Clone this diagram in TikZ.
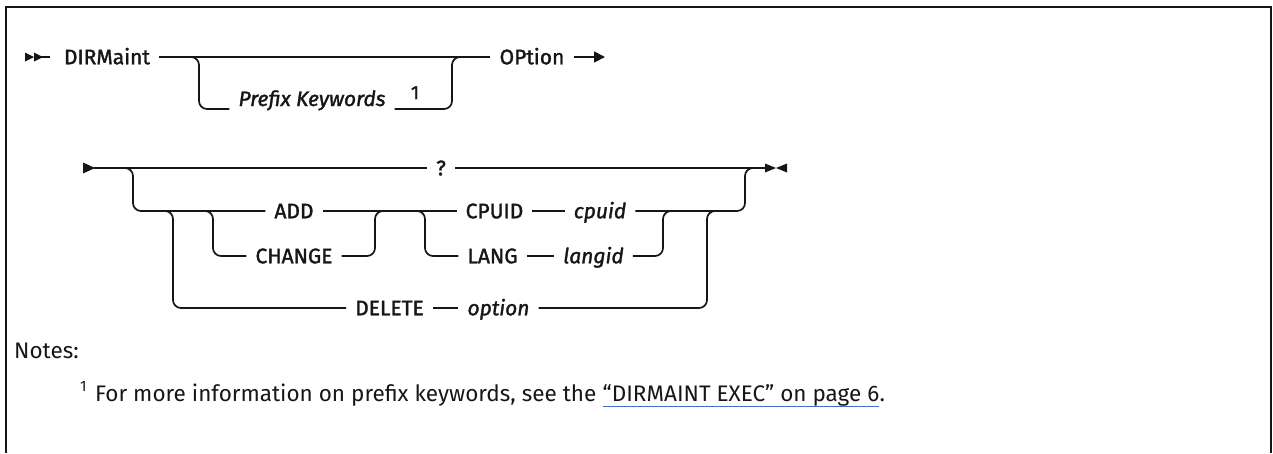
\documentclass[tikz,border=0pt]{standalone}
\usepackage{fontspec}
\setmainfont{Fira Sans}
\newfontfamily\diagfont{Fira Sans}[FakeBold=1.6]
\usetikzlibrary{arrows.meta,calc}
\definecolor{ink}{RGB}{22,22,22}
\definecolor{linkblue}{RGB}{70,110,200}
\begin{document}
\begin{tikzpicture}[x=1pt,y=-1pt,
  rail/.style={line width=1.7pt, rounded corners=8pt, draw=ink},
  kw/.style={font=\diagfont\fontsize{21}{25}\selectfont, text=ink, inner ysep=0pt, inner xsep=9pt, text height=14.5pt, text depth=0pt},
  var/.style={kw, font=\diagfont\fontsize{21}{25}\selectfont\itshape},
  supf/.style={font=\diagfont\fontsize{19}{22}\selectfont, text=ink, inner sep=0pt},
  notef/.style={font=\fontsize{22.5}{27}\selectfont, text=ink, inner sep=0pt},
  tipfill/.style={fill=ink, draw=none}]
\useasboundingbox (0,0) rectangle (1273,453);
% frame
\draw[line width=2pt, ink] (6,453) -- (6,7) -- (1271,7) -- (1271,453);

% ---------- row 1 ----------
\fill[tipfill] (25,52.5) -- (34,57) -- (25,61.5) -- cycle;
\fill[tipfill] (34,52.5) -- (43,57) -- (34,61.5) -- cycle;
\coordinate (st1) at (36,57);
\node[kw] (dirm) at (107,57) {DIRMaint};
\node[kw] (opt) at (532,57) {OPtion};
\node[var, anchor=base] (pk) at (312,106) {Prefix Keywords};
\node[supf, anchor=base] (sup1) at (415,99) {1};
\coordinate (e1) at (605,57);
\coordinate (j1a) at (187,57);
\coordinate (j1b) at (199,109);
\coordinate (pkl) at (pk.west |- j1b);
\coordinate (pkr) at (pk.east |- j1b);
\coordinate (j1c) at (452,109);
\coordinate (j1d) at (464,57);
\draw[rail] (st1) -- ([xshift=-5pt]dirm.west);
\draw[rail] (dirm.east) -- (opt.west);
\draw[rail] (j1a) -| (j1b) -- (pkl);
\draw[rail] (pkr) -- (j1c) |- (j1d);
\draw[rail, -{Triangle[length=11pt,width=11pt]}] (opt.east) -- (e1);

% ---------- row 2 ----------
\fill[tipfill] (83,162.5) -- (95,168) -- (83,173.5) -- cycle;
\coordinate (st2) at (94,168);
\node[kw] (q) at (441,168) {?};
\coordinate (e2) at (766,168);
\fill[tipfill] (765,163.5) -- (776,168) -- (765,172.5) -- cycle;
\fill[tipfill] (787,163.5) -- (776,168) -- (787,172.5) -- cycle;
\draw[rail] (st2) -- (q.west);
\draw[rail] (q.east) -- (e2);

\node[kw] (add) at (294,211) {ADD};
\node[kw] (chg) at (294,256) {CHANGE};
\node[kw] (del) at (389.5,308) {DELETE};
\node[var] (delv) at (498.5,308) {option};
\node[kw] (cpu) at (494.5,211) {CPUID};
\node[var] (cpuv) at (600,211) {cpuid};
\node[kw] (lang) at (492.5,256) {LANG};
\node[var] (langv) at (593.5,256) {langid};

\coordinate (ja) at (120,168);  \coordinate (jab) at (133,211);
\coordinate (jb) at (160,211);  \coordinate (jbb) at (173,308);
\coordinate (jc) at (200,211);  \coordinate (jcb) at (213,256);
\coordinate (jcr) at (375,256); \coordinate (jcu) at (388,211);
\coordinate (jd) at (412,211);  \coordinate (jdb) at (425,256);
\coordinate (jlr) at (663,256); \coordinate (jlu) at (676,211);
\coordinate (jdr) at (707,308); \coordinate (jdu) at (720,211);
\coordinate (jer) at (745,211); \coordinate (jeu) at (758,168);

\draw[rail] (ja) -| (jab) -- (add.west);
\draw[rail] (jb) -| (jbb) -- (del.west);
\draw[rail] (jc) -| (jcb) -- (chg.west);
\draw[rail] (chg.east) -- (jcr) |- (jcu);
\draw[rail] (add.east) -- (cpu.west);
\draw[rail] (jd) -| (jdb) -- (lang.west);
\draw[rail] (cpu.east) -- (cpuv.west);
\draw[rail] (lang.east) -- (langv.west);
\draw[rail] (del.east) -- (delv.west);
\draw[rail] (langv.east) -- (jlr) |- (jlu);
\draw[rail] (delv.east) -- (jdr) |- (jdu);
\draw[rail] (cpuv.east) -- (jer) |- (jeu);

% ---------- notes ----------
\node[notef, anchor=base west] (notes) at (14,358) {Notes:};
\node[notef, font=\fontsize{15}{17}\selectfont, anchor=base west] (fnm) at (80,391) {1};
\node[notef, anchor=base west] (fn) at (95,401) {For more information on prefix keywords, see the};
\node[notef, anchor=base west] (lnk) at ([xshift=6pt]fn.base east) {“DIRMAINT EXEC” on page 6};
\node[notef, anchor=base west] (dot) at (lnk.base east) {.};
\draw[linkblue, line width=1pt] ($(lnk.base west)+(0,5)$) -- ($(lnk.base east)+(0,5)$);
\end{tikzpicture}
\end{document}
